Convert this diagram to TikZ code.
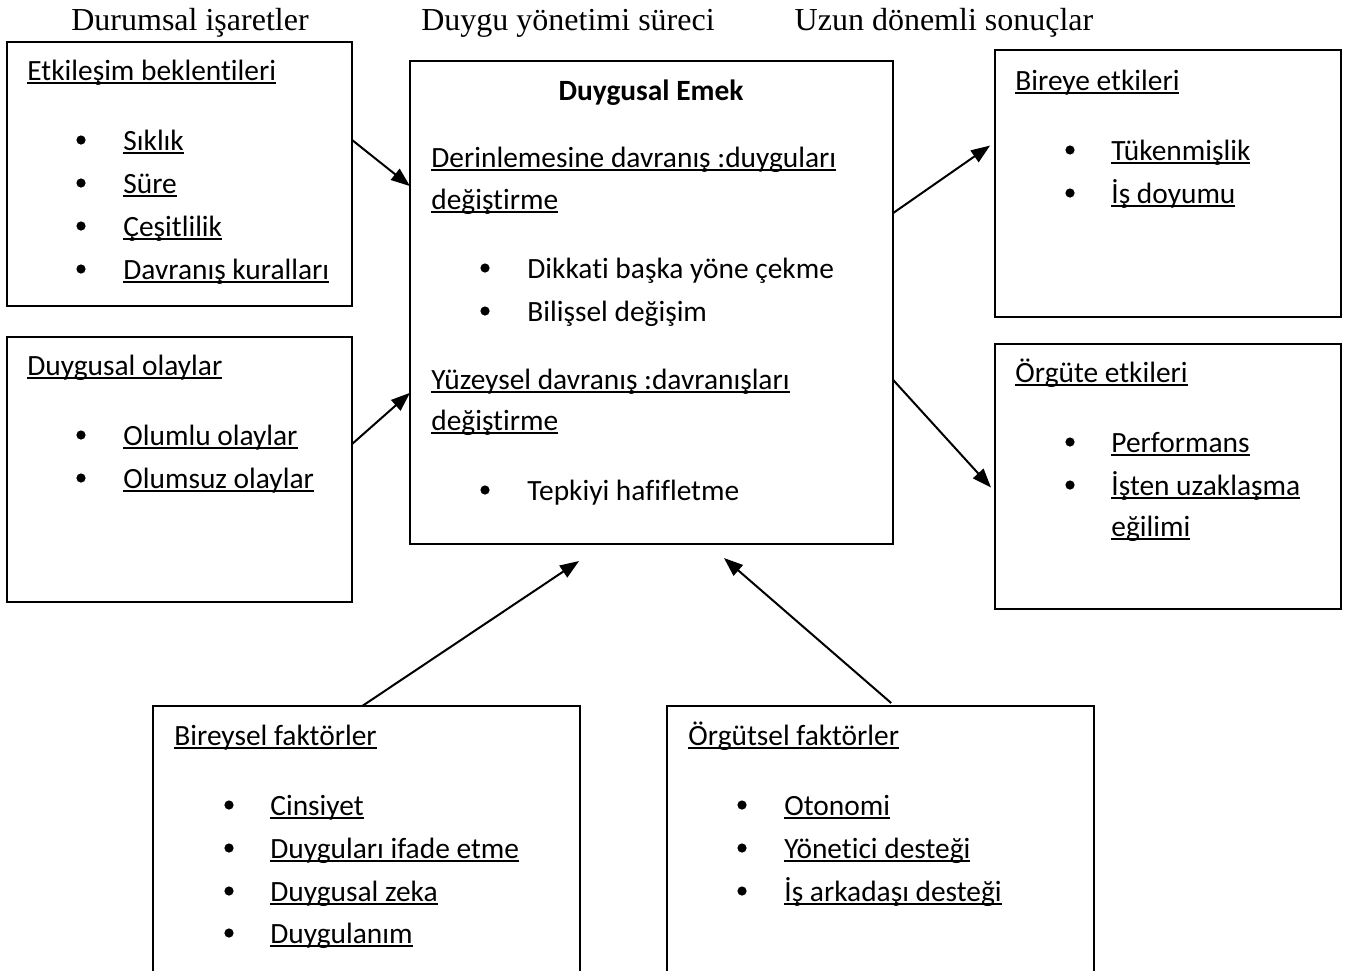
\documentclass[tikz,border=0pt]{standalone}
\usepackage{fontspec}
\setmainfont{Carlito}[Ligatures=NoCommon]
\newfontfamily\timesfont{Liberation Serif}
\usetikzlibrary{arrows.meta,calc}
\newcommand{\undr}[1]{\setbox0\hbox{#1}\rlap{\rule[-1.9pt]{\wd0}{0.9pt}}\box0}
\tikzset{
  box/.style={draw, line width=1pt, inner sep=0pt, outer sep=0pt},
  txt/.style={anchor=base west, inner sep=0pt, font=\fontsize{14.7}{17}\selectfont},
  bul/.style={circle, fill=black, inner sep=0pt, minimum size=4.6pt},
  ttl/.style={anchor=base, inner sep=0pt, font=\timesfont\fontsize{16}{19}\selectfont},
  arr/.style={-{Triangle[length=9.5pt,width=7pt]}, line width=1pt},
}
\begin{document}
\begin{tikzpicture}[x=0.5pt, y=-0.5pt]
    \clip (0,0) rectangle (1347,970);
    % column titles
    \node[ttl] (ttlA) at (190,30) {Durumsal işaretler};
    \node[ttl] (ttlB) at (568,30) {Duygu yönetimi süreci};
    \node[ttl] (ttlC) at (944,30) {Uzun dönemli sonuçlar};

    % boxes
    \node[box, minimum width=172.5pt, minimum height=132pt] (etk) at (179.5,174) {};
    \node[box, minimum width=172.5pt, minimum height=132.5pt] (duy) at (179.5,469.5) {};
    \node[box, minimum width=241.5pt, minimum height=241.5pt] (emek) at (651.5,302.5) {};
    \node[box, minimum width=173pt, minimum height=133.5pt] (bir) at (1168,183.5) {};
    \node[box, minimum width=173pt, minimum height=132.5pt] (org) at (1168,476.5) {};
    \node[box, minimum width=213.5pt, minimum height=147pt] (bfak) at (366.5,853) {};
    \node[box, minimum width=213.5pt, minimum height=147pt] (ofak) at (880.5,853) {};

    % etkilesim beklentileri
    \node[txt] (etkH) at (27,80) {\undr{Etkileşim beklentileri}};
    \node[bul] (etkB1) at (81,140) {};
    \node[bul] (etkB2) at (81,183) {};
    \node[bul] (etkB3) at (81,226) {};
    \node[bul] (etkB4) at (81,269) {};
    \node[txt] (etk1) at (123,150) {\undr{Sıklık}};
    \node[txt] (etk2) at (123,193) {\undr{Süre}};
    \node[txt] (etk3) at (123,236) {\undr{Çeşitlilik}};
    \node[txt] (etk4) at (123,279) {\undr{Davranış kuralları}};

    % duygusal olaylar
    \node[txt] (duyH) at (27,375) {\undr{Duygusal olaylar}};
    \node[bul] (duyB1) at (81,435) {};
    \node[bul] (duyB2) at (81,478) {};
    \node[txt] (duy1) at (123,445) {\undr{Olumlu olaylar}};
    \node[txt] (duy2) at (123,488) {\undr{Olumsuz olaylar}};

    % duygusal emek
    \node[txt, anchor=base] (emekH) at (651,100) {\bfseries Duygusal Emek};
    \node[txt] (emekD1) at (431,167) {\undr{Derinlemesine davranış :duyguları}};
    \node[txt] (emekD2) at (431,209) {\undr{değiştirme}};
    \node[bul] (emekB1) at (485,268) {};
    \node[bul] (emekB2) at (485,311) {};
    \node[txt] (emek1) at (527,278) {Dikkati başka yöne çekme};
    \node[txt] (emek2) at (527,321) {Bilişsel değişim};
    \node[txt] (emekY1) at (431,389) {\undr{Yüzeysel davranış :davranışları}};
    \node[txt] (emekY2) at (431,430) {\undr{değiştirme}};
    \node[bul] (emekB3) at (485,490) {};
    \node[txt] (emek3) at (527,500) {Tepkiyi hafifletme};

    % bireye etkileri
    \node[txt] (birH) at (1015,90) {\undr{Bireye etkileri}};
    \node[bul] (birB1) at (1070,150) {};
    \node[bul] (birB2) at (1070,193) {};
    \node[txt] (bir1) at (1111,160) {\undr{Tükenmişlik}};
    \node[txt] (bir2) at (1111,203) {\undr{İş doyumu}};

    % orgute etkileri
    \node[txt] (orgH) at (1015,382) {\undr{Örgüte etkileri}};
    \node[bul] (orgB1) at (1070,442) {};
    \node[bul] (orgB2) at (1070,485) {};
    \node[txt] (org1) at (1111,452) {\undr{Performans}};
    \node[txt] (org2) at (1111,495) {\undr{İşten uzaklaşma}};
    \node[txt] (org3) at (1111,536) {\undr{eğilimi}};

    % bireysel faktorler
    \node[txt] (bfakH) at (174,745) {\undr{Bireysel faktörler}};
    \node[bul] (bfakB1) at (229,805) {};
    \node[bul] (bfakB2) at (229,848) {};
    \node[bul] (bfakB3) at (229,891) {};
    \node[bul] (bfakB4) at (229,933) {};
    \node[txt] (bfak1) at (270,815) {\undr{Cinsiyet}};
    \node[txt] (bfak2) at (270,858) {\undr{Duyguları ifade etme}};
    \node[txt] (bfak3) at (270,901) {\undr{Duygusal zeka}};
    \node[txt] (bfak4) at (270,943) {\undr{Duygulanım}};

    % orgutsel faktorler
    \node[txt] (ofakH) at (688,745) {\undr{Örgütsel faktörler}};
    \node[bul] (ofakB1) at (742,805) {};
    \node[bul] (ofakB2) at (742,848) {};
    \node[bul] (ofakB3) at (742,891) {};
    \node[txt] (ofak1) at (784,815) {\undr{Otonomi}};
    \node[txt] (ofak2) at (784,858) {\undr{Yönetici desteği}};
    \node[txt] (ofak3) at (784,901) {\undr{İş arkadaşı desteği}};

    % arrows
    \draw[arr] ($(etk.north east)!0.371!(etk.south east)$) -- ($(emek.north west)!0.259!(emek.south west)$);
    \draw[arr] ($(duy.north east)!0.404!(duy.south east)$) -- ($(emek.north west)!0.687!(emek.south west)$);
    \draw[arr, shorten >=3pt] ($(emek.north east)!0.315!(emek.south east)$) -- ($(bir.north west)!0.345!(bir.south west)$);
    \draw[arr, shorten >=3pt] ($(emek.north east)!0.66!(emek.south east)$) -- ($(org.north west)!0.558!(org.south west)$);
    \draw[arr] ($(bfak.north west)!0.49!(bfak.north east)$) -- ($(emek.south west)!0.35!(emek.south east)+(0,17)$);
    \draw[arr] ($(ofak.north west)!0.525!(ofak.north east)+(0,-3)$) -- ($(emek.south west)!0.65!(emek.south east)+(0,14)$);
\end{tikzpicture}
\end{document}
